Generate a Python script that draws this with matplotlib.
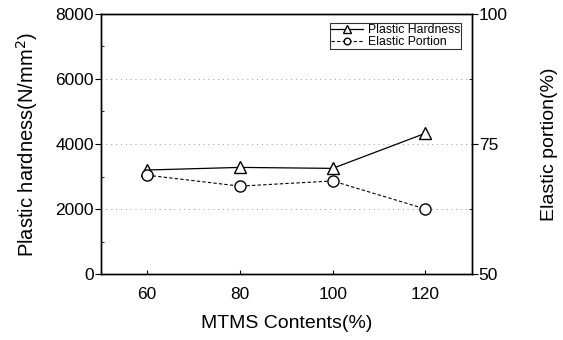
"""
Plastic hardness and elastic portion versus MTMS content.
"""

from matplotlib import pyplot as plt
from matplotlib.ticker import MultipleLocator

plt.rcParams['font.family'] = ['Liberation Sans', 'DejaVu Sans']

mtms = [60, 80, 100, 120]
hardness = [3200, 3280, 3250, 4330]
elastic = [69.0, 66.9, 67.9, 62.5]


def main():
    fig = plt.figure(figsize=(5.63, 3.40), dpi=100)
    ax = fig.add_axes([0.179, 0.194, 0.659, 0.765])

    ax.plot(mtms, hardness, '-', color='black', lw=0.9, marker='^',
            ms=9, mfc='white', mec='black', mew=1.0, label='Plastic Hardness')
    ax.set_xlim(50, 130)
    ax.set_ylim(0, 8000)
    ax.set_xticks(mtms)
    ax.set_yticks([0, 2000, 4000, 6000, 8000])
    ax.yaxis.set_minor_locator(MultipleLocator(1000))
    ax.tick_params(axis='y', which='major', direction='out', length=4, labelsize=12.5, pad=1)
    ax.tick_params(axis='y', which='minor', direction='in', length=2)
    ax.tick_params(axis='x', direction='in', length=3, labelsize=12.5, pad=9)
    ax.tick_params(right=False)
    for y in [2000, 4000, 6000]:
        ax.axhline(y, color='#999999', lw=0.7, ls=(0, (1, 4)), zorder=0)
    ax.set_xlabel('MTMS Contents(%)', fontsize=14, labelpad=10)
    ax.set_ylabel('Plastic hardness(N/mm$^2$)', fontsize=14.5, labelpad=11)

    ax2 = ax.twinx()
    ax2.plot(mtms, elastic, '--', color='black', lw=0.8, dashes=(3, 2),
             marker='o', ms=8, mfc='white', mec='black', mew=1.0,
             label='Elastic Portion')
    ax2.set_ylim(50, 100)
    ax2.set_yticks([50, 75, 100])
    ax2.yaxis.set_minor_locator(MultipleLocator(12.5))
    ax2.tick_params(axis='y', which='major', direction='out', length=4, labelsize=12.5, pad=1)
    ax2.tick_params(axis='y', which='minor', direction='in', length=2)
    ax2.set_ylabel('Elastic portion(%)', fontsize=14, labelpad=24)

    for a in (ax, ax2):
        for s in a.spines.values():
            s.set_linewidth(1.0)

    h1, l1 = ax.get_legend_handles_labels()
    h2, l2 = ax2.get_legend_handles_labels()
    leg = ax2.legend(h1 + h2, l1 + l2, loc='upper right', fontsize=8.8,
                     frameon=True, fancybox=False, edgecolor='black',
                     handlelength=2.6, borderpad=0.1, labelspacing=0.0,
                     handletextpad=0.4, markerscale=0.6, borderaxespad=0,
                     bbox_to_anchor=(0.972, 0.965))
    leg.get_frame().set_linewidth(0.8)

    fig.savefig('out.png', dpi=100)


main()
